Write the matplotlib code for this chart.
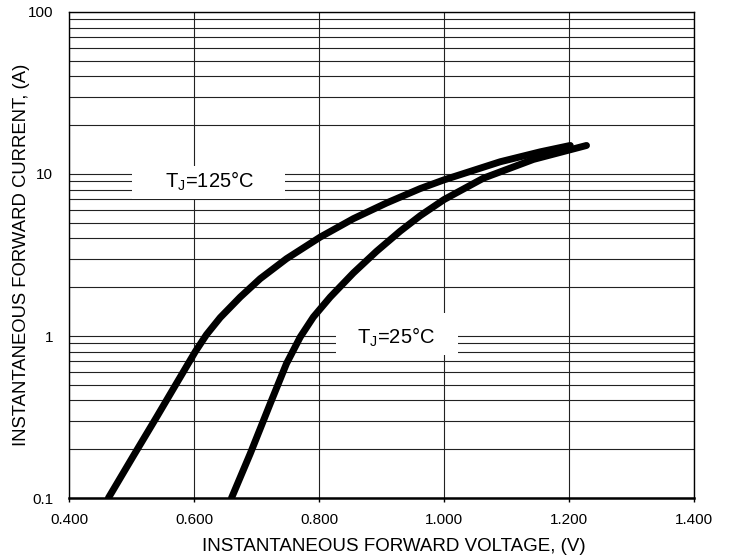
import matplotlib
matplotlib.use("Agg")
import matplotlib.pyplot as plt
from matplotlib.patches import Rectangle
from matplotlib.ticker import FixedLocator, LogLocator, NullFormatter

plt.rcParams["font.family"] = ["Liberation Sans", "DejaVu Sans"]
plt.rcParams["mathtext.default"] = "regular"

# forward characteristic
v_125 = [0.463, 0.503, 0.540, 0.572, 0.602, 0.620, 0.642, 0.674, 0.706,
         0.748, 0.802, 0.855, 0.908, 0.962, 1.000, 1.090, 1.154, 1.202]
i_125 = [0.10, 0.182, 0.315, 0.51, 0.80, 1.02, 1.30, 1.74, 2.26,
         3.00, 4.08, 5.30, 6.62, 8.13, 9.2, 11.9, 13.7, 15.0]

v_25 = [0.660, 0.690, 0.722, 0.748, 0.770, 0.791, 0.818, 0.855, 0.892,
        0.930, 0.962, 1.000, 1.063, 1.143, 1.228]
i_25 = [0.10, 0.188, 0.383, 0.676, 0.986, 1.31, 1.74, 2.45, 3.33,
        4.44, 5.53, 6.95, 9.42, 12.3, 15.0]

x_ticks = [0.4, 0.6, 0.8, 1.0, 1.2, 1.4]
x_labels = ["0.400", "0.600", "0.800", "1.000", "1.200", "1.400"]
y_ticks = [0.1, 1, 10, 100]
y_labels = ["0.1", "1", "10", "100"]

fig = plt.figure(figsize=(7.31, 5.60), dpi=100)
ax = fig.add_axes([0.0944, 0.1107, 0.855, 0.8679])

ax.set_yscale("log")
ax.set_xlim(0.4, 1.4)
ax.set_ylim(0.1, 100)

ax.set_xticks(x_ticks)
ax.set_xticklabels(x_labels)
ax.yaxis.set_major_locator(FixedLocator(y_ticks))
ax.set_yticklabels(y_labels)
ax.yaxis.set_minor_locator(LogLocator(base=10, subs=range(2, 10)))
ax.yaxis.set_minor_formatter(NullFormatter())

ax.set_axisbelow(True)
ax.grid(True, which="both", axis="y", color="#222222", lw=0.8)
ax.grid(True, which="major", axis="x", color="#222222", lw=0.8)

ax.tick_params(axis="x", length=3, width=1, pad=8, labelsize=11)
ax.tick_params(axis="y", which="both", length=0, pad=11.5, labelsize=11)

for side in ["left", "right", "top"]:
    ax.spines[side].set_linewidth(1.0)
ax.spines["bottom"].set_linewidth(1.8)

# label boxes cover the grid
ax.add_patch(Rectangle((0.501, 6.98), 0.2448, 11.15 - 6.98,
                       facecolor="white", edgecolor="none", zorder=1.5))
ax.add_patch(Rectangle((0.827, 0.76), 0.1954, 1.38 - 0.76,
                       facecolor="white", edgecolor="none", zorder=1.5))

ax.plot(v_125, i_125, color="black", lw=5.0, solid_capstyle="round",
        solid_joinstyle="round", zorder=3)
ax.plot(v_25, i_25, color="black", lw=5.0, solid_capstyle="round",
        solid_joinstyle="round", zorder=3)

ax.text(0.625, 9.0, "T$_J$=125°C", fontsize=14.5, ha="center", va="center", zorder=4)
ax.text(0.923, 0.977, "T$_J$=25°C", fontsize=14.5, ha="center", va="center", zorder=4)

ax.set_xlabel("INSTANTANEOUS FORWARD VOLTAGE, (V)", fontsize=13.5)
ax.xaxis.set_label_coords(0.519, -0.082)
ax.set_ylabel("INSTANTANEOUS FORWARD CURRENT, (A)", fontsize=13.3)
ax.yaxis.set_label_coords(-0.062, 0.5)

fig.savefig("out.png", dpi=100)
